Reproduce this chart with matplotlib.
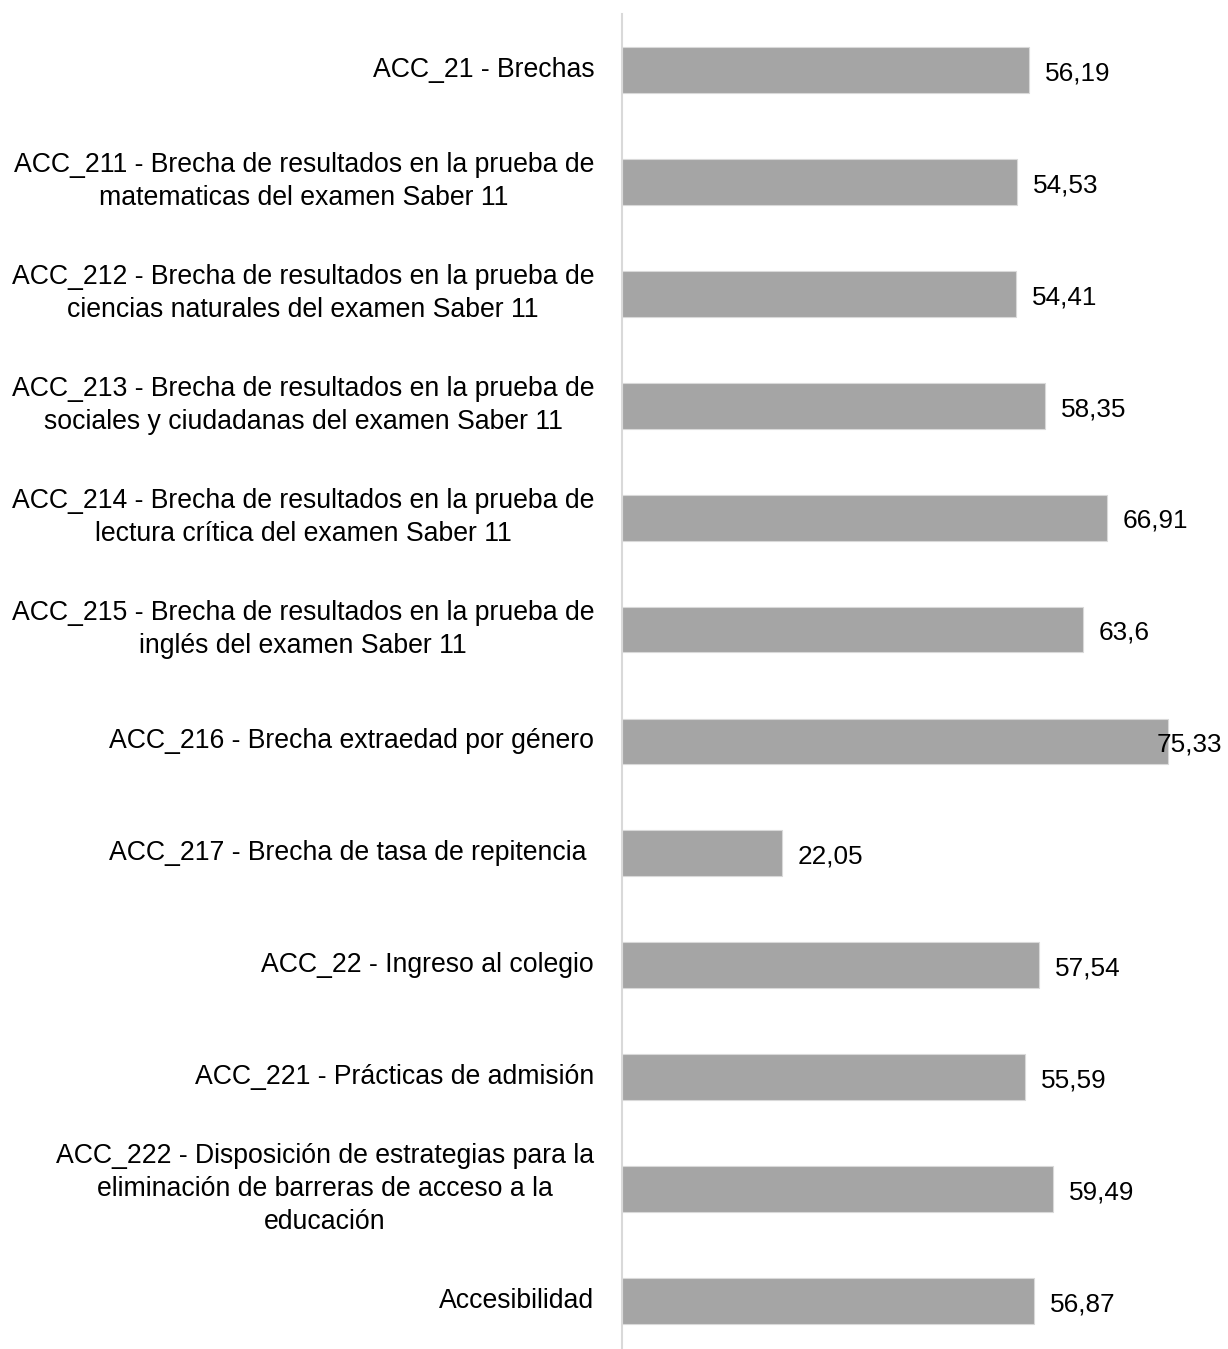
import matplotlib.pyplot as plt

categorias = [
    "ACC_21 - Brechas",
    "ACC_211 - Brecha de resultados en la prueba de\nmatematicas del examen Saber 11",
    "ACC_212 - Brecha de resultados en la prueba de\nciencias naturales del examen Saber 11",
    "ACC_213 - Brecha de resultados en la prueba de\nsociales y ciudadanas del examen Saber 11",
    "ACC_214 - Brecha de resultados en la prueba de\nlectura crítica del examen Saber 11",
    "ACC_215 - Brecha de resultados en la prueba de\ninglés del examen Saber 11",
    "ACC_216 - Brecha extraedad por género",
    "ACC_217 - Brecha de tasa de repitencia ",
    "ACC_22 - Ingreso al colegio",
    "ACC_221 - Prácticas de admisión",
    "ACC_222 - Disposición de estrategias para la\neliminación de barreras de acceso a la\neducación",
    "Accesibilidad",
]
valores = [56.19, 54.53, 54.41, 58.35, 66.91, 63.6, 75.33, 22.05, 57.54, 55.59, 59.49, 56.87]
etiquetas = ["56,19", "54,53", "54,41", "58,35", "66,91", "63,6", "75,33", "22,05",
             "57,54", "55,59", "59,49", "56,87"]

plt.rcParams['font.family'] = ['Liberation Sans', 'DejaVu Sans']

W, H = 1228, 1349
fig = plt.figure(figsize=(W / 100, H / 100), dpi=100)
# eje en px: x desde 622 hasta 1228, y desde 14 hasta 1357
ax = fig.add_axes([622 / W, (H - 1357) / H, (W - 622) / W, (1357 - 14) / H])

xmax = 83.6
y = list(range(len(valores)))
ax.barh(y, valores, height=0.41, color="#A5A5A5", edgecolor="#D9D9D9", linewidth=0.8)
ax.set_xlim(0, xmax)
ax.set_ylim(len(valores) - 0.5, -0.5)

for yi, v, t in zip(y, valores, etiquetas):
    if v + 2.2 + 9 > xmax:
        # Excel empuja la etiqueta dentro del área del gráfico
        ax.text(xmax - 0.8, yi + 0.03, t, ha='right', va='center', fontsize=18.8)
    else:
        ax.text(v + 2.2, yi + 0.03, t, ha='left', va='center', fontsize=18.8)

ax.set_yticks(y)
ax.set_yticklabels(categorias, fontsize=19.2, multialignment='center', linespacing=1.35)
for lbl in ax.get_yticklabels():
    lbl.set_va('center')
ax.tick_params(axis='y', length=0, pad=20)
ax.set_xticks([])

for s in ['top', 'right', 'bottom']:
    ax.spines[s].set_visible(False)
ax.spines['left'].set_color("#D9D9D9")
ax.spines['left'].set_linewidth(1.5)

fig.savefig("out.png", dpi=100)
